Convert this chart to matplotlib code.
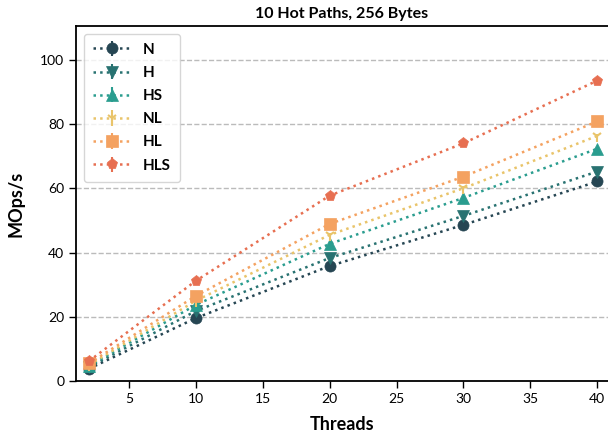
import numpy as np
import matplotlib
matplotlib.use('Agg')
import matplotlib.pyplot as plt

threads = [2, 10, 20, 30, 40]
labels = ['N', 'H', 'HS', 'NL', 'HL', 'HLS']
n_vals = [3.8, 19.6, 35.8, 48.6, 62.1]
h_vals = [4.3, 21.8, 38.3, 51.4, 65.2]
hs_vals = [4.7, 23.7, 42.7, 57.0, 72.3]
nl_vals = [5.0, 25.0, 45.5, 60.0, 76.3]
hl_vals = [5.5, 26.5, 48.9, 63.6, 80.8]
hls_vals = [6.2, 31.2, 57.7, 74.0, 93.5]
err = [0.4, 0.6, 0.6, 0.6, 0.6]

colors = ['#264653', '#287271', '#2a9d8f', '#e9c46a', '#f4a261', '#e76f51']
markers = ['o', 'v', '^', '1', 's', 'p']
series = [n_vals, h_vals, hs_vals, nl_vals, hl_vals, hls_vals]

plt.rcParams['font.family'] = ['Lato', 'DejaVu Sans']

fig = plt.figure(figsize=(6.08, 4.33), dpi=100)
ax = fig.add_axes([0.125, 0.12, 0.875, 0.82])

for lab, vals, c, m in zip(labels, series, colors, markers):
    ax.errorbar(threads, vals, yerr=err, color=c, marker=m, markersize=8,
                linestyle=':', linewidth=1.8, elinewidth=1.5, capsize=0,
                markeredgewidth=1.5 if m == '1' else 0.5, label=lab)

ax.set_xlim(1.04, 40.8)
ax.set_ylim(0, 110.5)
ax.set_xticks([5, 10, 15, 20, 25, 30, 35, 40])
ax.set_yticks([0, 20, 40, 60, 80, 100])
ax.yaxis.grid(True, linestyle='--', color='#bbbbbb', linewidth=1)
ax.set_axisbelow(True)
ax.spines['right'].set_visible(False)
ax.tick_params(labelsize=10, length=5, width=1)
for s in ['left', 'bottom', 'top']:
    ax.spines[s].set_linewidth(1.3)

ax.set_xlabel('Threads', fontsize=13, fontweight='bold', labelpad=8)
ax.set_ylabel('MOps/s', fontsize=13, fontweight='bold', labelpad=11)
ax.set_title('10 Hot Paths, 256 Bytes', fontsize=11.5, fontweight='bold', pad=6)

leg = ax.legend(loc='upper left', prop={'weight': 'bold', 'size': 11},
                handlelength=2.5, borderpad=0.6, labelspacing=0.6)

fig.savefig('out.png', dpi=100)
